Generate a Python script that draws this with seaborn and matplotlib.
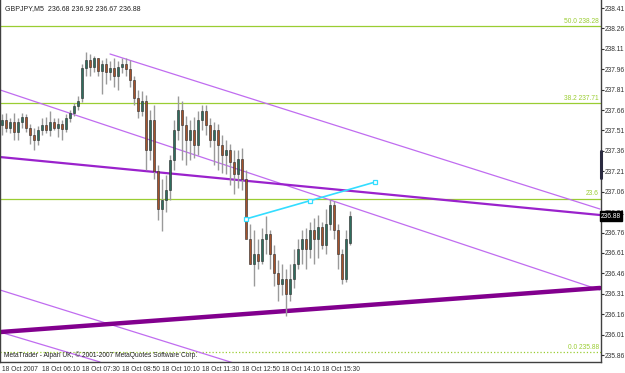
import numpy as np
import pandas as pd
import matplotlib
matplotlib.use("Agg")
import matplotlib.pyplot as plt
import seaborn as sns

# ---------------- data ----------------
# candle OHLC (GBPJPY M5)
opens = [237.55, 237.59, 237.53, 237.57, 237.50, 237.57, 237.61, 237.53, 237.48, 237.44,
         237.51, 237.55, 237.51, 237.57, 237.53, 237.56, 237.52, 237.60, 237.64, 237.69,
         237.75, 237.97, 238.03, 237.98, 238.04, 237.95, 238.00, 237.94, 237.97, 237.91,
         237.98, 238.00, 237.96, 237.88, 237.75, 237.65, 237.73, 237.37, 237.59, 237.21,
         236.93, 237.00, 237.07, 237.29, 237.51, 237.66, 237.55, 237.44, 237.51, 237.40,
         237.59, 237.65, 237.55, 237.44, 237.51, 237.40, 237.33, 237.37, 237.28, 237.19,
         237.30, 237.15, 236.71, 236.53, 236.60, 236.55, 236.71, 236.75, 236.60, 236.46,
         236.38, 236.42, 236.31, 236.42, 236.53, 236.64, 236.71, 236.64, 236.78, 236.71,
         236.80, 236.67, 236.82, 236.96, 236.78, 236.60, 236.42, 236.68]
highs = [237.63, 237.64, 237.60, 237.64, 237.60, 237.64, 237.63, 237.56, 237.53, 237.54,
         237.60, 237.61, 237.65, 237.60, 237.60, 237.59, 237.63, 237.66, 237.71, 237.76,
         238.00, 238.09, 238.07, 238.06, 238.04, 238.03, 238.04, 238.02, 238.04, 238.02,
         238.04, 238.04, 238.03, 237.91, 237.81, 237.80, 237.77, 237.66, 237.70, 237.26,
         237.15, 237.18, 237.33, 237.59, 237.76, 237.73, 237.62, 237.59, 237.61, 237.65,
         237.70, 237.70, 237.60, 237.57, 237.56, 237.48, 237.44, 237.41, 237.37, 237.37,
         237.38, 237.22, 236.82, 236.78, 236.71, 236.79, 236.88, 236.78, 236.67, 236.56,
         236.53, 236.49, 236.53, 236.64, 236.71, 236.78, 236.79, 236.84, 236.87, 236.89,
         236.84, 236.93, 237.01, 236.99, 236.82, 236.64, 236.78, 236.92]
lows = [237.48, 237.50, 237.49, 237.44, 237.44, 237.53, 237.50, 237.41, 237.37, 237.40,
        237.48, 237.49, 237.47, 237.51, 237.46, 237.44, 237.50, 237.57, 237.62, 237.66,
        237.72, 237.91, 237.91, 237.94, 237.91, 237.78, 237.85, 237.88, 237.83, 237.81,
        237.93, 237.91, 237.83, 237.70, 237.60, 237.62, 237.22, 237.29, 237.15, 236.85,
        236.77, 236.91, 237.00, 237.22, 237.44, 237.29, 237.26, 237.29, 237.31, 237.33,
        237.51, 237.48, 237.39, 237.26, 237.22, 237.20, 237.19, 237.11, 237.04, 237.09,
        237.07, 236.75, 236.53, 236.37, 236.49, 236.53, 236.60, 236.49, 236.37, 236.26,
        236.30, 236.15, 236.26, 236.35, 236.49, 236.53, 236.49, 236.57, 236.53, 236.57,
        236.64, 236.60, 236.78, 236.71, 236.49, 236.38, 236.40, 236.67]
closes = [237.59, 237.53, 237.57, 237.50, 237.57, 237.61, 237.53, 237.48, 237.44, 237.51,
          237.55, 237.51, 237.57, 237.53, 237.56, 237.52, 237.60, 237.64, 237.69, 237.73,
          237.97, 238.03, 237.98, 238.04, 237.95, 238.00, 237.94, 237.97, 237.91, 237.98,
          238.00, 237.96, 237.88, 237.75, 237.65, 237.73, 237.37, 237.59, 237.21, 236.93,
          237.00, 237.07, 237.29, 237.51, 237.66, 237.55, 237.44, 237.51, 237.40, 237.59,
          237.65, 237.55, 237.44, 237.51, 237.40, 237.33, 237.37, 237.28, 237.19, 237.30,
          237.15, 236.71, 236.53, 236.60, 236.55, 236.71, 236.75, 236.60, 236.46, 236.38,
          236.42, 236.31, 236.42, 236.53, 236.64, 236.71, 236.64, 236.78, 236.71, 236.80,
          236.67, 236.82, 236.96, 236.78, 236.60, 236.42, 236.71, 236.88]

# time-axis labels (every 10 bars)
xtick_bars = [0, 10, 20, 30, 40, 50, 60, 70, 80]
xtick_labels = ["18 Oct 2007", "18 Oct 06:10", "18 Oct 07:30", "18 Oct 08:50",
                "18 Oct 10:10", "18 Oct 11:30", "18 Oct 12:50", "18 Oct 14:10",
                "18 Oct 15:30"]

# price-axis labels
ytick_prices = [238.41, 238.26, 238.11, 237.96, 237.81, 237.66, 237.51, 237.36, 237.21,
                237.06, 236.91, 236.76, 236.61, 236.46, 236.31, 236.16, 236.01, 235.86]

# Fibonacci retracement levels
fib_levels = [238.28, 237.71, 237.01, 235.88]
fib_labels = ["50.0 238.28", "38.2 237.71", "23.6", "0.0 235.88"]

# trend lines: (bar1, price1, bar2, price2)
thick_line = (-0.5, 236.029, 149.5, 236.353)
mid_line = (-0.5, 237.315, 149.5, 236.889)
thin_lines = [(27.0, 238.072, 149.5, 236.933),
              (-0.5, 237.808, 149.5, 236.338),
              (-0.5, 236.338, 59.5, 235.787),
              (-0.5, 236.029, 24.5, 235.809)]
cyan_line = [(61.0, 236.860), (77.1, 236.995), (93.25, 237.131)]

title_text = "GBPJPY,M5  236.68 236.92 236.67 236.88"
copyright_text = "MetaTrader - Alpari UK, \u00a9 2001-2007 MetaQuotes Software Corp."
last_price = 236.88

# ---------------- figure ----------------
sns.set_style("white")
plt.rcParams['font.family'] = ['Liberation Sans', 'DejaVu Sans']
FS = 4.8
W, H = 625, 373
fig = plt.figure(figsize=(W / 100, H / 100), dpi=100)
fig.patch.set_facecolor("white")
ax = fig.add_axes([0, 11 / H, 601 / W, 362 / H])
ax.set_facecolor("white")

ymax = 238.41 + 8 / 136.1
ymin = 238.41 - 354 / 136.1
ax.set_ylim(ymin, ymax)
ax.set_xlim(-0.5, 149.75)

# fib levels
fib_color = "#9acd32"
for lvl, lab in zip(fib_levels, fib_labels):
    ls = ":" if lab.startswith("0.0") else "-"
    ax.axhline(lvl, color=fib_color, lw=0.9, ls=ls, zorder=1)
    ax.text(149.2, lvl + 0.008, lab, color=fib_color, fontsize=FS,
            ha="right", va="bottom", zorder=5)

# candles
bars = np.arange(len(opens))
o = np.array(opens); c = np.array(closes)
ax.vlines(bars, lows, highs, color="#9a9a9a", lw=1.0, zorder=3)
bull = c >= o
ax.bar(bars[bull], (c - o)[bull], bottom=o[bull], width=0.6, color="#2f6e5e",
       edgecolor="#2a2a2a", lw=0.4, zorder=4)
ax.bar(bars[~bull], (o - c)[~bull], bottom=c[~bull], width=0.6, color="#a5532c",
       edgecolor="#2a2a2a", lw=0.4, zorder=4)

# trend lines via seaborn
def seg_df(seg):
    return pd.DataFrame({"bar": [seg[0], seg[2]], "price": [seg[1], seg[3]]})

for seg in thin_lines:
    sns.lineplot(data=seg_df(seg), x="bar", y="price", color="#c06cf0", lw=0.9,
                 ax=ax, zorder=2)
sns.lineplot(data=seg_df(mid_line), x="bar", y="price", color="#9a22cc", lw=1.6,
             ax=ax, zorder=2)
sns.lineplot(data=seg_df(thick_line), x="bar", y="price", color="#82008e", lw=3.2,
             ax=ax, zorder=2)
cyan_df = pd.DataFrame(cyan_line, columns=["bar", "price"])
sns.lineplot(data=cyan_df, x="bar", y="price", color="#33ddff", lw=1.2, ax=ax,
             marker="s", markersize=3.5, markerfacecolor="white",
             markeredgecolor="#33ddff", markeredgewidth=0.9, zorder=6)

# axes styling
for s in ["left", "bottom", "right"]:
    ax.spines[s].set_color("#404040")
    ax.spines[s].set_linewidth(1.0)
ax.spines["top"].set_visible(False)
ax.yaxis.tick_right()
ax.set_yticks(ytick_prices)
ax.set_yticklabels([f"{p:.2f}" for p in ytick_prices])
ax.tick_params(axis="y", length=2, width=0.8, pad=0.4, labelsize=FS,
               colors="#303030", direction="out")
ax.set_xticks(xtick_bars)
ax.set_xticklabels(xtick_labels)
ax.tick_params(axis="x", length=2.5, width=0.8, pad=0.6, labelsize=FS,
               colors="#303030", direction="out")
for lbl in ax.get_xticklabels():
    lbl.set_ha("left")
ax.set_xlabel("")
ax.set_ylabel("")
ax.grid(False)

# texts
ax.text(0.7, ymax - 0.035, title_text, fontsize=FS + 0.2, color="#202020",
        ha="left", va="top", zorder=7)
ax.text(0.5, 235.83, copyright_text, fontsize=FS, color="#202020",
        ha="left", va="bottom", zorder=7)

# current price marker on axis
ax.text(1.0, last_price, f"{last_price:.2f}", transform=ax.get_yaxis_transform(),
        fontsize=FS, color="white", ha="left", va="center", zorder=10,
        bbox=dict(boxstyle="square,pad=0.2", fc="black", ec="black"),
        clip_on=False)
ax.plot([1.0, 1.0], [237.16, 237.36], transform=ax.get_yaxis_transform(),
        color="#2a2a40", lw=2.2, clip_on=False, zorder=10)

legend = ax.get_legend()
if legend is not None:
    legend.remove()

fig.savefig("out.png", dpi=100, facecolor="white")
